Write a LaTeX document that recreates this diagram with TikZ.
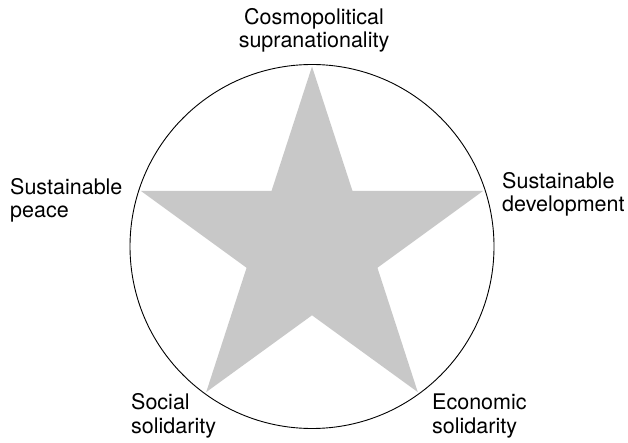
\documentclass[tikz,border=0pt]{standalone}
\usepackage{fontspec}
\setmainfont{TeX Gyre Heros}
\usetikzlibrary{calc}
\definecolor{stargray}{RGB}{200,200,200}
\tikzset{
  lbl/.style={inner sep=0pt, font=\fontsize{21.5}{23.5}\selectfont, align=left},
  lblc/.style={inner sep=0pt, font=\fontsize{21.5}{23.5}\selectfont, align=center}
}
\begin{document}
\begin{tikzpicture}[x=1pt,y=-1pt]
\useasboundingbox (0,0) rectangle (628,443);
\coordinate (c) at (312,246.5);
\fill[stargray] ($(c)+(-90:180)$)
  \foreach \k in {0,...,4}{
    -- ($(c)+({-54+72*\k}:68.8)$) -- ($(c)+({-18+72*\k}:180)$)
  } -- cycle;
\draw[line width=0.9pt] (c) circle[radius=182];
\node[lblc, anchor=base] (cos) at (314,48) {Cosmopolitical\\supranationality};
\node[lbl, anchor=base west] (peace) at (10,218) {Sustainable\\peace};
\node[lbl, anchor=base west] (dev) at (502,212) {Sustainable\\development};
\node[lbl, anchor=base west] (soc) at (131,433) {Social\\solidarity};
\node[lbl, anchor=base west] (eco) at (432,433) {Economic\\solidarity};
\end{tikzpicture}
\end{document}
